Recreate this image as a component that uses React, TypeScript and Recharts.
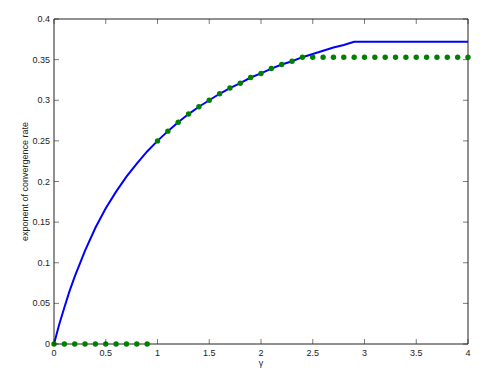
import { ComposedChart, Line, XAxis, YAxis } from 'recharts';

// blue curve: exponent vs gamma
const gammaLine = [0, 0.05, 0.1, 0.15, 0.2, 0.3, 0.4, 0.5, 0.6, 0.7, 0.8, 0.9, 1.0, 1.1, 1.2, 1.3, 1.4, 1.5, 1.6, 1.7, 1.8, 1.9, 2.0, 2.1, 2.2, 2.3, 2.4, 2.5, 2.6, 2.7, 2.8, 2.9, 4.0];
const rateLine = [0, 0.024, 0.045, 0.065, 0.083, 0.115, 0.143, 0.167, 0.1875, 0.206, 0.222, 0.237, 0.25, 0.262, 0.273, 0.283, 0.292, 0.3, 0.308, 0.315, 0.321, 0.328, 0.333, 0.339, 0.344, 0.348, 0.353, 0.357, 0.361, 0.365, 0.368, 0.372, 0.372];

// green dots
const gammaDots = [0, 0.1, 0.2, 0.3, 0.4, 0.5, 0.6, 0.7, 0.8, 0.9, 1.0, 1.1, 1.2, 1.3, 1.4, 1.5, 1.6, 1.7, 1.8, 1.9, 2.0, 2.1, 2.2, 2.3, 2.4, 2.5, 2.6, 2.7, 2.8, 2.9, 3.0, 3.1, 3.2, 3.3, 3.4, 3.5, 3.6, 3.7, 3.8, 3.9, 4.0];
const rateDots = [0, 0, 0, 0, 0, 0, 0, 0, 0, 0, 0.25, 0.262, 0.273, 0.283, 0.292, 0.3, 0.308, 0.315, 0.321, 0.328, 0.333, 0.339, 0.344, 0.348, 0.353, 0.353, 0.353, 0.353, 0.353, 0.353, 0.353, 0.353, 0.353, 0.353, 0.353, 0.353, 0.353, 0.353, 0.353, 0.353, 0.353];

const xTicks = [0, 0.5, 1, 1.5, 2, 2.5, 3, 3.5, 4];
const yTicks = [0, 0.05, 0.1, 0.15, 0.2, 0.25, 0.3, 0.35, 0.4];

const lineData = gammaLine.map((g, i) => ({ g, v: rateLine[i] }));
const dotData = gammaDots.map((g, i) => ({ g, v: rateDots[i] }));

const AXIS = '#222';
const FONT = '"Liberation Sans", Arial, sans-serif';

const BottomTick = ({ x, y, payload }: any) => (
  <g>
    <line x1={x} x2={x} y1={y - 3} y2={y - 8} stroke={AXIS} strokeWidth={0.6} />
    <text x={x} y={y} dy={9} textAnchor="middle" fontSize={9} fill="#222" fontFamily={FONT}>
      {payload.value}
    </text>
  </g>
);

const LeftTick = ({ x, y, payload }: any) => (
  <g>
    <line x1={x + 4} x2={x + 9} y1={y} y2={y} stroke={AXIS} strokeWidth={0.6} />
    <text x={x} y={y} dy={3} textAnchor="end" fontSize={9} fill="#222" fontFamily={FONT}>
      {payload.value}
    </text>
  </g>
);

const TopTick = ({ x, y }: any) => (
  <line x1={x} x2={x} y1={y} y2={y + 5} stroke={AXIS} strokeWidth={0.6} />
);

const RightTick = ({ x, y }: any) => (
  <line x1={x} x2={x - 5} y1={y} y2={y} stroke={AXIS} strokeWidth={0.6} />
);

export default function App() {
  return (
    <div style={{ position: 'absolute', left: 0, top: 0, width: 491, height: 376, background: '#fff' }}>
      <ComposedChart width={491} height={376} margin={{ top: 18, right: 22, bottom: 0, left: 0 }}>
        <XAxis
          dataKey="g"
          type="number"
          domain={[0, 4]}
          ticks={xTicks}
          height={32}
          tickSize={0}
          tickMargin={3}
          tick={<BottomTick />}
          axisLine={{ stroke: AXIS }}
          allowDuplicatedCategory={false}
          label={{ value: 'γ', position: 'center', dy: 3, fontSize: 9, fill: '#222', fontFamily: FONT }}
        />
        <XAxis
          xAxisId="top"
          orientation="top"
          dataKey="g"
          type="number"
          domain={[0, 4]}
          ticks={xTicks}
          height={1}
          tickSize={0}
          tickMargin={0}
          tick={<TopTick />}
          axisLine={{ stroke: AXIS }}
        />
        <YAxis
          type="number"
          domain={[0, 0.4]}
          ticks={yTicks}
          width={54}
          tickSize={0}
          tickMargin={4}
          tick={<LeftTick />}
          axisLine={{ stroke: AXIS }}
          label={{ value: 'exponent of convergence rate', angle: -90, position: 'center', dx: -2, fontSize: 9, fill: '#222', fontFamily: FONT }}
        />
        <YAxis
          yAxisId="right"
          orientation="right"
          type="number"
          domain={[0, 0.4]}
          ticks={yTicks}
          width={1}
          tickSize={0}
          tickMargin={0}
          tick={<RightTick />}
          axisLine={{ stroke: AXIS }}
        />
        {/* invisible series so the box axes (top/right) get drawn */}
        <Line
          data={lineData}
          dataKey="v"
          xAxisId="top"
          yAxisId="right"
          stroke="none"
          dot={false}
          activeDot={false}
          isAnimationActive={false}
        />
        <Line
          data={lineData}
          dataKey="v"
          type="linear"
          stroke="#0000ff"
          strokeWidth={2}
          dot={false}
          isAnimationActive={false}
        />
        <Line
          data={dotData}
          dataKey="v"
          stroke="none"
          dot={{ r: 2.7, fill: '#008000', stroke: 'none' }}
          isAnimationActive={false}
        />
      </ComposedChart>
    </div>
  );
}
